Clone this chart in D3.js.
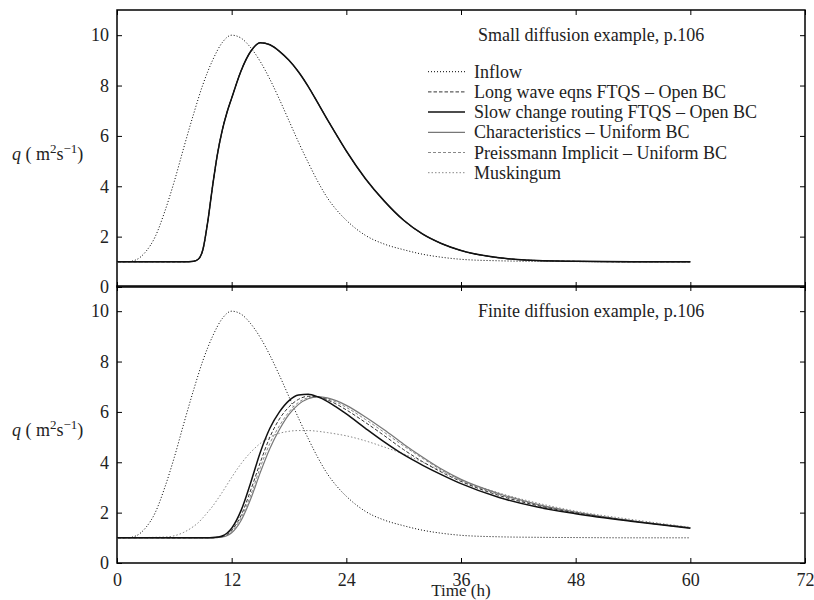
<!DOCTYPE html>
<html>
<head>
<meta charset="utf-8">
<script src="https://cdn.jsdelivr.net/npm/d3@7"></script>
<style>
  body { margin: 0; background: #fff; }
</style>
</head>
<body>
<div id="graph"></div>
<script>
// inflow hydrograph (same in both panels)
const tIn = [0, 1, 2, 3, 4, 5, 6, 7, 8, 9, 10, 11, 12, 13, 14, 15, 16, 17, 18, 19, 20, 21, 22, 23, 24, 26, 28, 30, 32, 34, 36, 40, 44, 48, 54, 60];
const inflow = [1.0, 1.0, 1.08, 1.4, 2.0, 3.0, 4.2, 5.55, 6.85, 8.05, 9.0, 9.7, 10.0, 9.88, 9.5, 8.95, 8.25, 7.45, 6.6, 5.75, 4.95, 4.2, 3.55, 3.05, 2.65, 2.05, 1.7, 1.48, 1.3, 1.18, 1.1, 1.04, 1.02, 1.01, 1.0, 1.0];

// outflow times
const tOut = [0, 5, 7, 8, 8.5, 9, 9.5, 10, 10.5, 11, 11.5, 12, 13, 14, 15, 16, 17, 18, 19, 20, 21, 22, 23, 24, 26, 28, 30, 32, 34, 36, 40, 44, 48, 54, 60];

// small diffusion : all schemes lie on top of each other
const smallLong  = [1.0, 1.0, 1.0, 1.02, 1.1, 1.5, 2.6, 4.0, 5.25, 6.2, 6.92, 7.5, 8.6, 9.36, 9.7, 9.62, 9.36, 9.0, 8.54, 7.97, 7.32, 6.66, 6.02, 5.4, 4.3, 3.4, 2.65, 2.1, 1.72, 1.45, 1.16, 1.05, 1.02, 1.0, 1.0];
const smallSlow  = smallLong.slice();
const smallChar  = smallLong.slice();
const smallPreis = smallLong.slice();
const smallMusk  = smallLong.slice();

// finite diffusion
const finLong  = [1.0, 1.0, 1.0, 1.0, 1.0, 1.0, 1.0, 1.0, 1.02, 1.05, 1.13, 1.3, 1.9, 2.9, 4.0, 5.0, 5.72, 6.2, 6.5, 6.62, 6.6, 6.48, 6.3, 6.08, 5.58, 5.05, 4.5, 4.02, 3.6, 3.24, 2.68, 2.28, 1.99, 1.66, 1.39];
const finSlow  = [1.0, 1.0, 1.0, 1.0, 1.0, 1.0, 1.0, 1.01, 1.03, 1.07, 1.18, 1.38, 2.1, 3.2, 4.4, 5.35, 6.0, 6.45, 6.67, 6.7, 6.6, 6.42, 6.18, 5.92, 5.35, 4.8, 4.3, 3.88, 3.5, 3.15, 2.6, 2.22, 1.96, 1.65, 1.38];
const finChar  = [1.0, 1.0, 1.0, 1.0, 1.0, 1.0, 1.0, 1.0, 1.01, 1.03, 1.08, 1.2, 1.7, 2.55, 3.6, 4.55, 5.3, 5.9, 6.3, 6.52, 6.6, 6.56, 6.44, 6.26, 5.8, 5.28, 4.72, 4.2, 3.72, 3.32, 2.75, 2.33, 2.02, 1.67, 1.40];
const finPreis = [1.0, 1.0, 1.0, 1.0, 1.0, 1.0, 1.0, 1.0, 1.01, 1.04, 1.1, 1.25, 1.8, 2.7, 3.8, 4.75, 5.45, 6.0, 6.38, 6.56, 6.6, 6.52, 6.38, 6.18, 5.7, 5.18, 4.65, 4.15, 3.68, 3.28, 2.72, 2.31, 2.01, 1.67, 1.40];
const finMusk  = [1.0, 1.03, 1.22, 1.45, 1.6, 1.8, 2.02, 2.25, 2.52, 2.8, 3.1, 3.4, 3.95, 4.4, 4.75, 5.0, 5.15, 5.23, 5.26, 5.26, 5.23, 5.18, 5.12, 5.05, 4.85, 4.6, 4.33, 4.0, 3.65, 3.3, 2.78, 2.38, 2.06, 1.72, 1.42];

const legendLabels = ["Inflow", "Long wave eqns FTQS – Open BC", "Slow change routing FTQS – Open BC",
  "Characteristics – Uniform BC", "Preissmann Implicit – Uniform BC", "Muskingum"];
const xTicks = [0, 12, 24, 36, 48, 60, 72];
const yTicks = [0, 2, 4, 6, 8, 10];

const FONT = "'Liberation Serif', 'DejaVu Serif', serif";

// styles for each line, same order as the legend
const styles = [
  {stroke: "#000", dash: "1,2", w: 1},
  {stroke: "#333", dash: "3.5,2", w: 1},
  {stroke: "#111", dash: null, w: 1.5},
  {stroke: "#777", dash: null, w: 1.2},
  {stroke: "#888", dash: "3,2", w: 1},
  {stroke: "#888", dash: "1.5,2", w: 1}
];

const W = 814, H = 600;
const svg = d3.select("#graph").append("svg").attr("width", W).attr("height", H)
  .attr("font-family", FONT);

const x = d3.scaleLinear().domain([0, 72]).range([117, 805]);

const panels = [
  {y: d3.scaleLinear().domain([0, 11]).range([287, 10]), title: "Small diffusion example, p.106",
   series: [smallLong, smallSlow, smallChar, smallPreis, smallMusk], legend: true, xlab: false},
  {y: d3.scaleLinear().domain([0, 11]).range([563, 286]), title: "Finite diffusion example, p.106",
   series: [finLong, finSlow, finChar, finPreis, finMusk], legend: false, xlab: true}
];

function txt(sel, size) {
  return sel.style("font-family", FONT).style("font-size", size + "px").attr("fill", "#222");
}

panels.forEach(p => {
  const g = svg.append("g");
  const y = p.y;
  const y0 = y(0), y1 = y(11);

  // axes (ticks inside, mirrored)
  const ax = (a, tr, lab) => {
    const s = g.append("g").attr("transform", tr).call(a);
    s.attr("font-family", null);
    s.select(".domain").remove();
    s.selectAll("line").attr("stroke", "#000");
    txt(s.selectAll("text"), 18);
    if (!lab) s.selectAll("text").remove();
    return s;
  };
  ax(d3.axisLeft(y).tickValues(yTicks).tickSize(-5).tickPadding(8), "translate(117,0)", true);
  ax(d3.axisRight(y).tickValues(yTicks).tickSize(-5), "translate(805,0)", false);
  ax(d3.axisTop(x).tickValues(xTicks).tickSize(-5), "translate(0," + y1 + ")", false);
  ax(d3.axisBottom(x).tickValues(xTicks).tickSize(-5).tickPadding(10), "translate(0," + y0 + ")", p.xlab);

  // frame
  g.append("rect").attr("x", 117).attr("y", y1).attr("width", 688).attr("height", y0 - y1)
    .attr("fill", "none").attr("stroke", "#000").attr("stroke-width", 1.5);

  const line = (ts) => d3.line().x((d, i) => x(ts[i])).y(d => y(d)).curve(d3.curveMonotoneX);

  // inflow
  g.append("path").datum(inflow).attr("d", line(tIn))
    .attr("fill", "none").attr("stroke", styles[0].stroke).attr("stroke-width", styles[0].w)
    .attr("stroke-dasharray", styles[0].dash);

  // outflows, drawn light first so the dark ones stay on top
  const order = [4, 3, 2, 0, 1];
  order.forEach(k => {
    const st = styles[k + 1];
    g.append("path").datum(p.series[k]).attr("d", line(tOut))
      .attr("fill", "none").attr("stroke", st.stroke).attr("stroke-width", st.w)
      .attr("stroke-dasharray", st.dash);
  });

  txt(g.append("text").attr("x", 478).attr("y", y1 + 31), 18).text(p.title);

  // y label
  const yl = txt(g.append("text").attr("x", 12).attr("y", y(5.3) + 6), 18);
  yl.append("tspan").style("font-style", "italic").text("q");
  yl.append("tspan").text(" ( m");
  yl.append("tspan").attr("dy", -7).style("font-size", "13px").text("2");
  yl.append("tspan").attr("dy", 7).text("s");
  yl.append("tspan").attr("dy", -7).style("font-size", "13px").text("−1");
  yl.append("tspan").attr("dy", 7).text(")");

  if (p.legend) {
    legendLabels.forEach((lab, i) => {
      const ly = 71.7 + i * 20.2;
      const st = styles[i];
      g.append("line").attr("x1", 428).attr("x2", 465).attr("y1", ly).attr("y2", ly)
        .attr("stroke", st.stroke).attr("stroke-width", st.w).attr("stroke-dasharray", st.dash);
      txt(g.append("text").attr("x", 474).attr("y", ly + 6), 18).text(lab);
    });
  }
  if (p.xlab) {
    txt(g.append("text").attr("x", x(36)).attr("y", 596).attr("text-anchor", "middle"), 17)
      .text("Time (h)");
  }
});
</script>
</body>
</html>
